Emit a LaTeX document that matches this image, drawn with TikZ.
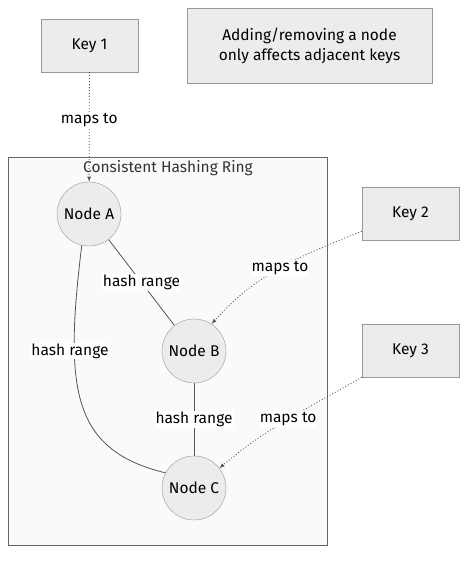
\documentclass[tikz,border=0pt]{standalone}
\usepackage{fontspec}
\setmainfont{Fira Sans}
\definecolor{boxfill}{HTML}{ECECEC}
\definecolor{boxline}{HTML}{999999}
\definecolor{ringfill}{HTML}{FAFAFA}
\definecolor{ringline}{HTML}{666666}
\definecolor{edgeline}{HTML}{555555}
\begin{document}
\begin{tikzpicture}[x=1bp,y=-1bp,font=\fontsize{15.5bp}{20bp}\selectfont]
\tikzstyle{keybox}=[draw=boxline,fill=boxfill,minimum width=97bp,minimum height=53bp]
\tikzstyle{hashnode}=[circle,draw=boxline,fill=boxfill,minimum size=64bp,inner sep=0pt]
\tikzstyle{maps}=[edgeline,line width=0.8bp,dash pattern=on 1bp off 2bp,-latex]
\tikzstyle{tag}=[fill=white,inner sep=1bp,text=black]
\useasboundingbox (0,0) rectangle (475,562);
% ========= ring
\node (ring) at (167.5,351) [draw=ringline,fill=ringfill,minimum width=319bp,minimum height=388bp] {};
\node (ringtitle) at (168,168) [text=black!80] {Consistent Hashing Ring};

\node (nodeA) at (89,214) [hashnode] {Node A};
\node (nodeB) at (194,351) [hashnode] {Node B};
\node (nodeC) at (194,488) [hashnode] {Node C};
% ========= keys
\node (key1) at (89.5,45.5) [keybox] {Key 1};
\node (key2) at (410.5,213.5) [keybox] {Key 2};
\node (key3) at (410.5,350.5) [keybox] {Key 3};
\node (note) at (309.5,45.5) [keybox, minimum width=245bp, minimum height=75bp, align=center] {Adding/removing a node\\only affects adjacent keys};
% ====== ring edges
\draw [edgeline, line width=0.8bp] (nodeA) -- node [tag] {hash range} (nodeB);
\draw [edgeline, line width=0.8bp] (nodeB) -- node [tag] {hash range} (nodeC);
\draw [edgeline, line width=0.8bp] (nodeA.-103) .. controls (64,390) and (72,450) .. (nodeC.152);
\node (acrange) at (70,351) [tag] {hash range};
%% ===== mappings
\draw [maps] (key1) -- node [tag, pos=0.44] {maps to} (nodeA);
\draw [maps] (key2.-160) to [out=202,in=48] node [tag] {maps to} (nodeB.57);
\draw [maps] (key3.south west) to [out=210,in=40] node [tag] {maps to} (nodeC.38);
\end{tikzpicture}
\end{document}
